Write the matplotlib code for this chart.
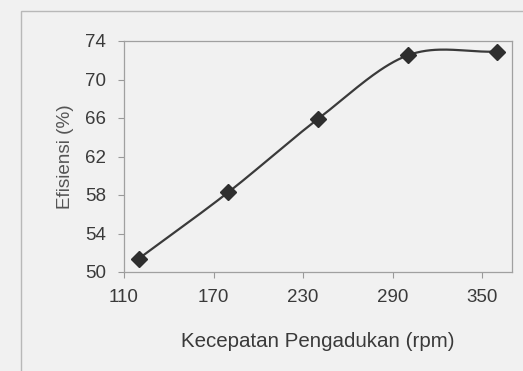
import numpy as np
import matplotlib.pyplot as plt
from matplotlib.patches import Rectangle

# Data
rpm = [120, 180, 240, 300, 360]
efisiensi = [51.4, 58.3, 65.9, 72.5, 72.9]
xticks = [110, 170, 230, 290, 350]
yticks = [50, 54, 58, 62, 66, 70, 74]


def smooth(xs, ys, n=40):
    # Catmull-Rom curve through the points, like a spreadsheet "smoothed line"
    p = np.column_stack([xs, ys]).astype(float)
    p = np.vstack([2 * p[0] - p[1], p, 2 * p[-1] - p[-2]])
    out = []
    t = np.linspace(0, 1, n)[:, None]
    for i in range(1, len(p) - 2):
        p0, p1, p2, p3 = p[i - 1], p[i], p[i + 1], p[i + 2]
        seg = 0.5 * ((2 * p1) + (-p0 + p2) * t + (2 * p0 - 5 * p1 + 4 * p2 - p3) * t**2
                     + (-p0 + 3 * p1 - 3 * p2 + p3) * t**3)
        out.append(seg)
    out = np.vstack(out)
    return out[:, 0], out[:, 1]


plt.rcParams['font.family'] = ['Liberation Sans', 'DejaVu Sans']
bg = '#f1f1f1'
ink = '#3a3a3a'

fig = plt.figure(figsize=(5.23, 3.71), dpi=100, facecolor=bg)
ax = fig.add_axes([124 / 523, 1 - 272 / 371, (512 - 124) / 523, (272 - 41) / 371])
ax.set_facecolor(bg)

# outer chart frame
fig.patches.append(Rectangle((21 / 523, -0.1), 1.2, 1 - 11 / 371 + 0.1, transform=fig.transFigure,
                             fill=False, edgecolor='#b8b8b8', linewidth=1.0))

sx, sy = smooth(rpm, efisiensi)
ax.plot(sx, sy, color=ink, linewidth=1.6)
ax.plot(rpm, efisiensi, linestyle='none', marker='D', markersize=8, color='#2e2e2e')

ax.set_xlim(110, 370)
ax.set_ylim(50, 74)
ax.set_xticks(xticks)
ax.set_yticks(yticks)
ax.tick_params(direction='out', length=4, color='#999999', labelsize=13.5, labelcolor=ink)
ax.tick_params(axis='y', pad=9)
ax.tick_params(axis='x', pad=8)
for s in ax.spines.values():
    s.set_color('#a0a0a0')
    s.set_linewidth(0.9)

ax.set_xlabel('Kecepatan Pengadukan (rpm)', fontsize=14.8, color=ink, labelpad=19)
ax.set_ylabel('Efisiensi (%)', fontsize=13.6, color='#555555', labelpad=8)

fig.savefig('out.png', dpi=100, facecolor=bg)
